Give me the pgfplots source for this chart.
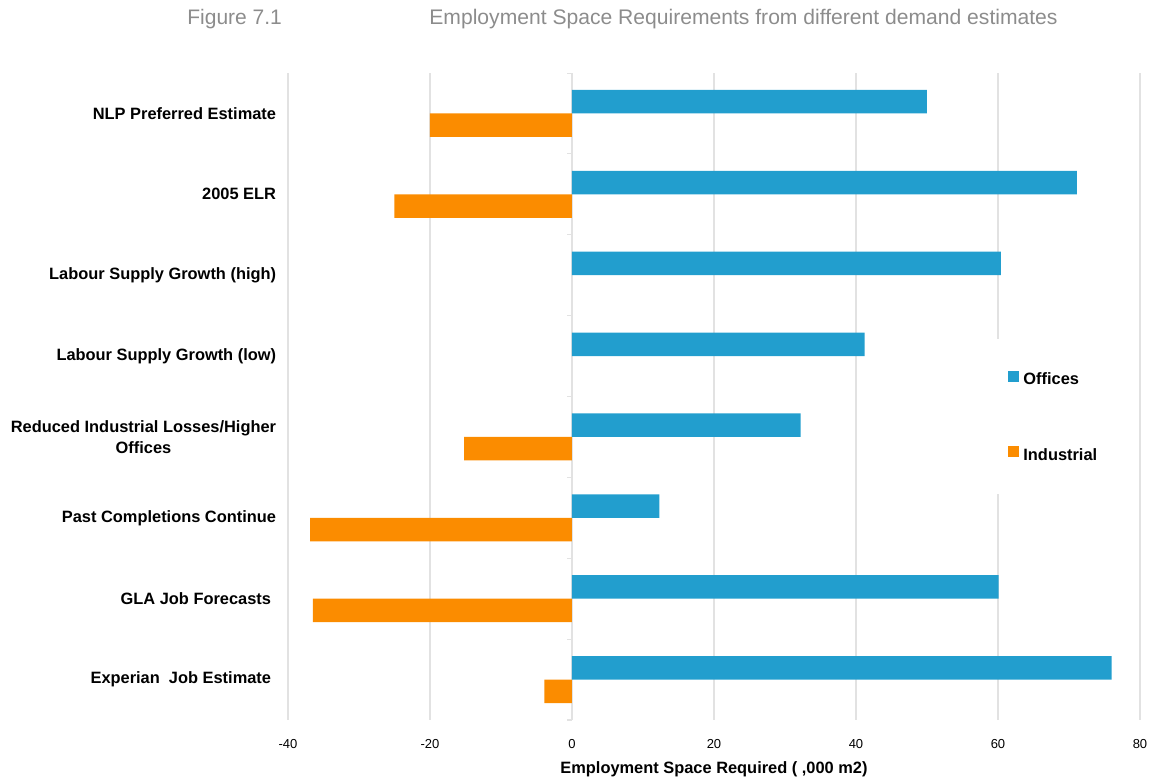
\documentclass[border=0pt]{standalone}
\usepackage{fontspec}
\setmainfont{Liberation Sans}
\usepackage{pgfplots}
\pgfplotsset{compat=1.18}
\definecolor{offblue}{RGB}{34,158,206}
\definecolor{indorange}{RGB}{251,140,0}
\definecolor{gridgray}{RGB}{226,226,226}
\definecolor{titlegray}{RGB}{140,140,140}
\begin{document}
\begin{tikzpicture}
\path[use as bounding box] (0,0) rectangle (576.5pt,-389pt);
\node[anchor=base west, font=\fontsize{10.5}{12}\selectfont, text=titlegray, inner sep=0pt] at (93.5pt,-12pt) {Figure 7.1};
\node[anchor=base west, font=\fontsize{10.55}{12}\selectfont, text=titlegray, inner sep=0pt] at (214.5pt,-12pt) {Employment Space Requirements from different demand estimates};
\begin{axis}[
  at={(144pt,-360pt)}, anchor=south west,
  scale only axis, width=426pt, height=323.5pt,
  xmin=-40, xmax=80, ymin=-0.5, ymax=7.5,
  xtick={-40,-20,...,80},
  ytick={0,...,7},
  yticklabels={Experian\ \ Job Estimate\hspace{2.5pt}, GLA Job Forecasts\hspace{2.5pt}, Past Completions Continue, {Reduced Industrial Losses/Higher\\Offices}, Labour Supply Growth (low), Labour Supply Growth (high), 2005 ELR, NLP Preferred Estimate},
  axis line style={draw=none},
  tick style={draw=none},
  xmajorgrids, grid style={gridgray, line width=0.55pt},
  xbar, bar width=0.29,
  /pgf/number format/assume math mode=true,
  xticklabel style={font=\fontsize{6.5}{8}\selectfont, anchor=center, yshift=-12pt},
  yticklabel style={font=\bfseries\fontsize{8.2}{10.5}\selectfont, align=center, inner sep=0pt, xshift=-1.5pt, anchor=east},
  xlabel={Employment Space Required ( ,000 m2)},
  xlabel style={font=\bfseries\fontsize{8.2}{10}\selectfont, at={(axis description cs:0.5,0)}, anchor=center, yshift=-24.5pt},
  legend style={at={(rel axis cs:0.831,0.59)}, anchor=north west, draw=none, fill=white,
    font=\bfseries\fontsize{8.2}{10}\selectfont, row sep=29.75pt, inner xsep=6pt, inner ysep=16pt,
    nodes={inner xsep=2pt, inner ysep=1pt, text height=6pt, text depth=0pt}},
  legend cell align=left,
  legend image code/.code={\fill[#1] (0pt,-1.5pt) rectangle (5.5pt,4pt);},
]
\draw[gridgray, line width=0.55pt] (axis cs:0,-0.5) -- (axis cs:0,7.5);
\pgfplotsinvokeforeach{-0.5,0.5,1.5,2.5,3.5,4.5,5.5,6.5,7.5}{\draw[gridgray, line width=0.55pt] (axis cs:-0.7,#1) -- (axis cs:0,#1);}
\addplot[fill=offblue, draw=none, bar shift=0.145] coordinates {(50,7) (71.1,6) (60.4,5) (41.2,4) (32.2,3) (12.3,2) (60.1,1) (76,0)};
\addplot[fill=indorange, draw=none, bar shift=-0.145] coordinates {(-20,7) (-25,6) (-15.2,3) (-36.9,2) (-36.5,1) (-3.9,0)};
\legend{Offices, Industrial}
\end{axis}
\end{tikzpicture}
\end{document}
